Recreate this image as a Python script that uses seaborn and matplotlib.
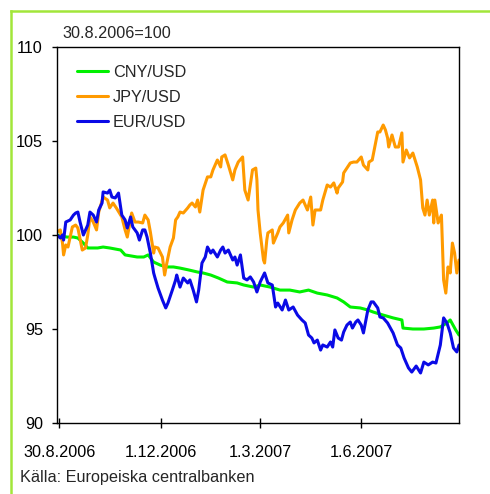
import numpy as np
import pandas as pd
import matplotlib
matplotlib.use("Agg")
import matplotlib.pyplot as plt
import seaborn as sns
from matplotlib.lines import Line2D

# ---- data (days after 30.8.2006, index value 30.8.2006=100) ----
base_date = "2006-08-30"

cny_days = [-2, 7, 13, 17, 22, 26, 35, 40, 46, 56, 60, 66, 71, 77, 81, 86, 92, 98, 104, 110,
            118, 126, 131, 138, 145, 153, 162, 168, 177, 183, 192, 201, 210, 219, 227, 235,
            244, 253, 259, 265, 274, 281, 286, 295, 304, 312, 313, 322, 332, 341, 347, 353,
            356, 361, 364]
cny_vals = [100.00, 99.89, 99.89, 99.84, 99.57, 99.31, 99.31, 99.36, 99.31, 99.20, 98.94,
            98.88, 98.83, 98.83, 98.94, 98.56, 98.40, 98.30, 98.30, 98.24, 98.14, 98.03, 97.98,
            97.87, 97.71, 97.50, 97.45, 97.34, 97.23, 97.34, 97.23, 97.07, 97.07, 96.97, 97.07,
            96.91, 96.81, 96.65, 96.44, 96.17, 96.12, 96.01, 95.90, 95.74, 95.59, 95.48, 95.05,
            95.00, 95.00, 95.05, 95.11, 95.32, 95.48, 94.95, 94.68]

jpy_days = [-2, 1, 3, 4, 6, 8, 12, 15, 17, 21, 24, 26, 28, 31, 34, 36, 40, 44, 46, 49, 52, 57,
            60, 62, 66, 69, 72, 76, 78, 81, 83, 86, 87, 90, 94, 96, 98, 101, 104, 106, 108, 110,
            113, 117, 119, 121, 124, 126, 128, 131, 135, 138, 140, 144, 147, 148, 151, 154, 158,
            160, 163, 167, 169, 172, 176, 179, 180, 181, 183, 186, 187, 189, 190, 194, 195, 199,
            201, 204, 208, 209, 212, 215, 219, 222, 226, 229, 231, 233, 238, 240, 244, 247, 250,
            253, 254, 258, 259, 262, 265, 268, 271, 275, 277, 281, 282, 285, 288, 290, 292, 295,
            297, 299, 300, 303, 306, 309, 312, 313, 316, 319, 322, 326, 329, 331, 333, 335, 337,
            340, 341, 342, 345, 348, 350, 352, 354, 356, 358, 360, 362, 364]
jpy_vals = [100.16, 100.27, 99.57, 98.94, 99.47, 99.36, 100.43, 100.53, 100.37, 99.20, 99.31,
            100.00, 100.96, 100.69, 100.27, 101.22, 102.02, 101.86, 101.44, 101.70, 101.44,
            100.96, 100.27, 99.89, 101.17, 100.69, 100.69, 100.64, 101.06, 100.80, 100.16, 99.04,
            99.36, 99.31, 98.83, 97.87, 98.51, 99.36, 99.84, 100.80, 100.96, 101.22, 101.17,
            101.44, 101.60, 101.70, 101.49, 101.86, 101.22, 102.39, 103.09, 103.09, 103.46,
            103.99, 103.62, 104.15, 104.26, 103.72, 102.93, 103.46, 103.88, 104.15, 102.39,
            101.86, 103.46, 103.56, 102.93, 101.33, 100.11, 98.67, 98.51, 99.73, 100.11, 100.27,
            99.57, 100.11, 100.43, 100.64, 101.06, 100.11, 100.80, 101.33, 101.70, 101.86,
            101.33, 102.02, 100.53, 101.33, 101.33, 101.86, 102.66, 102.55, 102.77, 102.23,
            102.50, 102.82, 103.30, 103.56, 103.83, 103.88, 103.88, 104.15, 103.72, 103.46,
            103.88, 103.99, 104.89, 105.48, 105.48, 105.85, 105.59, 105.16, 104.68, 105.32,
            104.68, 104.68, 105.43, 103.88, 104.52, 104.10, 104.36, 103.62, 102.93, 101.44,
            101.06, 101.86, 101.06, 101.86, 100.64, 101.86, 100.64, 101.06, 97.61, 96.91, 98.30,
            97.98, 99.57, 99.04, 97.98, 98.67]

eur_days = [-2, 1, 3, 4, 6, 10, 13, 15, 17, 19, 22, 26, 28, 31, 34, 36, 39, 40, 44, 46, 48,
            51, 54, 57, 60, 62, 65, 67, 71, 73, 76, 78, 80, 83, 86, 87, 90, 94, 97, 99, 103,
            106, 107, 110, 113, 117, 119, 122, 125, 127, 130, 133, 135, 138, 140, 144, 147, 149,
            151, 154, 158, 160, 162, 165, 168, 171, 174, 177, 180, 183, 187, 190, 194, 197, 199,
            203, 206, 209, 213, 217, 221, 224, 227, 230, 232, 235, 238, 240, 244, 247, 249, 251,
            254, 257, 259, 262, 265, 267, 270, 272, 275, 277, 281, 284, 286, 290, 292, 295, 299,
            301, 304, 308, 311, 314, 318, 321, 325, 329, 332, 336, 340, 343, 347, 350, 353, 356,
            359, 362, 364]
eur_vals = [100.00, 99.84, 100.00, 99.73, 100.69, 100.80, 101.06, 101.17, 101.22, 100.69,
            100.00, 100.53, 101.22, 101.06, 100.69, 101.33, 101.70, 102.29, 102.23, 102.39,
            102.02, 101.97, 102.23, 101.06, 100.80, 100.37, 100.96, 100.43, 100.11, 99.73,
            100.27, 100.27, 99.89, 99.04, 97.98, 97.77, 97.18, 96.54, 96.12, 96.38, 97.07, 97.61,
            97.87, 97.23, 97.71, 97.45, 97.61, 97.07, 96.44, 97.07, 98.51, 98.83, 99.36, 99.04,
            99.20, 98.83, 99.20, 99.36, 99.04, 99.20, 98.67, 98.83, 98.40, 98.94, 97.71, 97.61,
            97.77, 97.50, 96.97, 97.50, 97.98, 97.45, 97.34, 96.17, 96.38, 96.01, 96.54, 96.01,
            96.17, 95.74, 95.48, 95.32, 94.68, 94.52, 94.26, 94.41, 93.88, 94.15, 94.04, 94.31,
            94.04, 94.95, 94.52, 94.41, 94.84, 95.21, 95.37, 95.05, 95.37, 95.48, 95.21, 94.79,
            96.01, 96.44, 96.44, 96.12, 95.64, 95.59, 95.32, 95.11, 94.79, 94.15, 93.99, 93.46,
            92.93, 92.71, 93.03, 92.66, 93.24, 93.09, 93.24, 93.19, 94.15, 95.59, 95.32, 94.79,
            93.99, 93.78, 94.15]

series_names = ["CNY/USD", "JPY/USD", "EUR/USD"]
series_colors = ["#00f000", "#ff9a00", "#0a0ae6"]
tick_dates = ["2006-08-30", "2006-12-01", "2007-03-01", "2007-06-01"]
tick_labels = ["30.8.2006", "1.12.2006", "1.3.2007", "1.6.2007"]
y_ticks = [90, 95, 100, 105, 110]

# ---- build dataframe ----
b = pd.Timestamp(base_date)
frames = []
for name, days, vals in zip(series_names, [cny_days, jpy_days, eur_days],
                            [cny_vals, jpy_vals, eur_vals]):
    frames.append(pd.DataFrame({
        "date": b + pd.to_timedelta(days, unit="D"),
        "value": vals,
        "series": name,
    }))
df = pd.concat(frames, ignore_index=True)

sns.set_theme(style="white")
plt.rcParams["font.family"] = ["Liberation Sans", "DejaVu Sans"]
FS = 11.7

fig = plt.figure(figsize=(4.9, 4.94), dpi=100)
W, H = 490, 494
ax = fig.add_axes([57 / W, 1 - 423 / H, (459 - 57) / W, (423 - 47) / H])

sns.lineplot(data=df, x="date", y="value", hue="series", hue_order=series_names,
             palette=dict(zip(series_names, series_colors)), estimator=None, sort=False,
             linewidth=2.2, ax=ax, legend=False)

ax.set_xlim(b + pd.Timedelta(days=-2), b + pd.Timedelta(days=364))
ax.set_ylim(90, 110)
ax.set_yticks(y_ticks)
ax.set_yticklabels([str(t) for t in y_ticks])
ax.set_xticks(pd.to_datetime(tick_dates))
ax.set_xticklabels(tick_labels)
ax.set_xlabel("")
ax.set_ylabel("")
for s in ax.spines.values():
    s.set_color("black")
    s.set_linewidth(1.0)
ax.tick_params(axis="y", direction="out", length=3.6, width=1, pad=6.5,
               labelsize=FS, colors="black", left=True)
ax.tick_params(axis="x", direction="inout", length=7.2, width=1, pad=12.5,
               labelsize=FS, colors="black", bottom=True)

handles = [Line2D([], [], color=c, lw=2.2) for c in series_colors]
ax.legend(handles, series_names, loc="upper left", bbox_to_anchor=(20 / 402, 0.953),
          frameon=False, fontsize=FS, handlelength=1.9, handletextpad=0.3,
          labelspacing=0.62, borderpad=0, borderaxespad=0)

fig.text(62 / W, 1 - 38 / H, "30.8.2006=100", fontsize=FS, ha="left", va="baseline")
fig.text(20 / W, 1 - 482 / H, "Källa: Europeiska centralbanken", fontsize=FS,
         ha="left", va="baseline")

border = "#a2e63a"
fig.add_artist(Line2D([11 / W, 11 / W], [0, 1 - 11 / H], transform=fig.transFigure,
                      color=border, lw=1.8, solid_capstyle="projecting"))
fig.add_artist(Line2D([11 / W, 1], [1 - 11 / H, 1 - 11 / H], transform=fig.transFigure,
                      color=border, lw=1.8, solid_capstyle="projecting"))

fig.savefig("out.png", dpi=100)
